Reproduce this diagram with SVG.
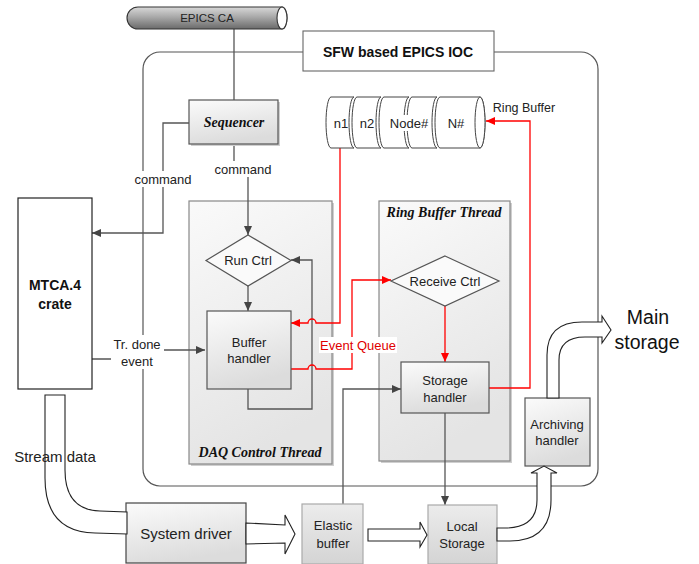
<svg xmlns="http://www.w3.org/2000/svg" width="699" height="564" viewBox="0 0 699 564">
<defs>
<linearGradient id="gPipe" x1="0" y1="0" x2="0" y2="1">
<stop offset="0" stop-color="#d8d8d8"/><stop offset="0.45" stop-color="#a9a9a9"/><stop offset="1" stop-color="#6a6a6a"/>
</linearGradient>
<linearGradient id="gNode" x1="0" y1="0" x2="0.3" y2="1">
<stop offset="0" stop-color="#fbfbfb"/><stop offset="1" stop-color="#dcdcdc"/>
</linearGradient>
<linearGradient id="gThread" x1="0" y1="0" x2="0.3" y2="1">
<stop offset="0" stop-color="#fafafa"/><stop offset="1" stop-color="#e4e4e4"/>
</linearGradient>
<linearGradient id="gGray" x1="0" y1="0" x2="0" y2="1">
<stop offset="0" stop-color="#ececec"/><stop offset="1" stop-color="#d4d4d4"/>
</linearGradient>
<marker id="ah" viewBox="0 0 9 8" refX="9" refY="4" markerWidth="9" markerHeight="8" markerUnits="userSpaceOnUse" orient="auto">
<path d="M0,0 L9,4 L0,8 Z" fill="#444"/>
</marker>
<marker id="ahr" viewBox="0 0 9 8" refX="9" refY="4" markerWidth="9" markerHeight="8" markerUnits="userSpaceOnUse" orient="auto">
<path d="M0,0 L9,4 L0,8 Z" fill="#ff0000"/>
</marker>
</defs>
<style>
text{font-family:"Liberation Sans",Arial,sans-serif;font-size:13px;fill:#222;text-anchor:middle}
.ser{font-family:"Liberation Serif","Times New Roman",serif;font-weight:bold;font-style:italic;font-size:14px;fill:#111}
.b{font-weight:bold;fill:#111}
.node{fill:url(#gNode);stroke:#555;stroke-width:1.2}
.thread{fill:url(#gThread);stroke:#888;stroke-width:1.2}
.shadow{fill:#cfcfcf}
.gray{fill:url(#gGray);stroke:#aaa;stroke-width:1.2}
.c{fill:none;stroke:#555;stroke-width:1.3}
.r{fill:none;stroke:#ff0000;stroke-width:1.3}
.bg{fill:#fff}
.blk{fill:#fff;stroke:#222;stroke-width:1.1}
.seg{fill:#fff;stroke:#444;stroke-width:1}
</style>

<g id="ioc">
<rect x="143" y="52" width="455" height="434" rx="17" fill="none" stroke="#555" stroke-width="1.2"/>
<rect x="303" y="31" width="191" height="40" fill="#fff" stroke="#666" stroke-width="1.1"/>
<text class="b" x="398" y="57" style="font-size:14px">SFW based EPICS IOC</text>
</g>

<g id="daq-thread">
<rect class="shadow" x="191" y="203" width="143" height="263"/>
<rect class="thread" x="189" y="201" width="143" height="263"/>
<text class="ser" x="260" y="457">DAQ Control Thread</text>
</g>

<g id="rb-thread">
<rect class="shadow" x="381" y="203" width="131" height="260"/>
<rect class="thread" x="379" y="201" width="131" height="260"/>
<text class="ser" x="444" y="217">Ring Buffer Thread</text>
</g>

<g id="connectors">
<path class="c" d="M234,29 L234,100"/>
<path class="c" d="M189,123 L163,123 L163,233 L92,233" marker-end="url(#ah)"/>
<path class="c" d="M234,144 L234,169 L248,169 L248,235" marker-end="url(#ah)"/>
<path class="c" d="M92,359 L137,359 L137,350 L205,350" marker-end="url(#ah)"/>
<path class="c" d="M248,286 L248,311" marker-end="url(#ah)"/>
<path class="c" d="M248,389 L248,409 L312,409 L312,260 L291,260" marker-end="url(#ah)"/>
<path class="c" d="M343,504 L343,389 L401,389" marker-end="url(#ah)"/>
<path class="c" d="M445,413 L445,505" marker-end="url(#ah)"/>
<path class="r" d="M340,148 L340,323 L316,323 A4,4 0 0 0 308,323 L291,323" marker-end="url(#ahr)"/>
<path class="r" d="M291,369 L308,369 A4,4 0 0 1 316,369 L352,369 L352,280 L391,280" marker-end="url(#ahr)"/>
<path class="r" d="M445,306 L445,362" marker-end="url(#ahr)"/>
<path class="r" d="M489,388 L530,388 L530,121 L486,121" marker-end="url(#ahr)"/>
<rect class="bg" x="134" y="171" width="59" height="16"/>
<text x="163" y="183.5">command</text>
<rect class="bg" x="214" y="161" width="59" height="16"/>
<text x="243" y="173.5">command</text>
<rect class="bg" x="111" y="335" width="53" height="34"/>
<text x="137" y="348.5">Tr. done</text>
<text x="137" y="365.5">event</text>
<rect class="bg" x="319" y="337" width="78" height="16"/>
<text x="358" y="349.5" style="fill:#e00000">Event Queue</text>
</g>

<g id="epics-ca">
<path d="M138,7 L282,7 A5,11 0 0 1 282,29 L138,29 A11,11 0 0 1 138,7 Z" fill="url(#gPipe)" stroke="#333" stroke-width="1.1"/>
<ellipse cx="282" cy="18" rx="5" ry="11" fill="#fff" stroke="#333" stroke-width="1.1"/>
<text x="207" y="22" style="font-size:11.5px">EPICS CA</text>
</g>

<g id="sequencer">
<rect class="shadow" x="191" y="102" width="89" height="44"/>
<rect class="node" x="189" y="100" width="89" height="44"/>
<text class="ser" x="234" y="127">Sequencer</text>
</g>

<g id="mtca">
<rect x="18" y="198" width="74" height="191" fill="#fff" stroke="#222" stroke-width="1.2"/>
<text class="b" x="55" y="290" style="font-size:14px">MTCA.4</text>
<text class="b" x="55" y="309" style="font-size:14px">crate</text>
</g>

<g id="ring-buffer">
<path class="seg" d="M331,97 L354,97 A5,25.5 0 0 0 354,148 L331,148 A5,25.5 0 0 1 331,97 Z"/>
<path class="seg" d="M357,97 L381,97 A5,25.5 0 0 0 381,148 L357,148 A5,25.5 0 0 1 357,97 Z"/>
<path class="seg" d="M384,97 L409,97 A5,25.5 0 0 0 409,148 L384,148 A5,25.5 0 0 1 384,97 Z"/>
<path class="seg" d="M412,97 L437,97 A5,25.5 0 0 0 437,148 L412,148 A5,25.5 0 0 1 412,97 Z"/>
<path class="seg" d="M440,97 L480,97 A5,25.5 0 0 1 480,148 L440,148 A5,25.5 0 0 1 440,97 Z"/>
<ellipse cx="480" cy="122.5" rx="5" ry="25.5" fill="#fff" stroke="#444" stroke-width="1"/>
<text x="341" y="127.5">n1</text>
<text x="367" y="127.5">n2</text>
<rect class="bg" x="390" y="115" width="38" height="16"/>
<text x="409" y="127.5">Node#</text>
<text x="456" y="127.5">N#</text>
<text x="524" y="112" style="font-size:12.5px">Ring Buffer</text>
</g>

<g id="run-ctrl">
<path d="M248,235 L291,260.5 L248,286 L206,260.5 Z" fill="#fafafa" stroke="#555" stroke-width="1.2"/>
<text x="248" y="265">Run Ctrl</text>
</g>

<g id="buffer-handler">
<rect class="node" x="207" y="311" width="84" height="78"/>
<text x="249" y="346.5">Buffer</text>
<text x="249" y="363">handler</text>
</g>

<g id="receive-ctrl">
<path d="M445,256 L499,281 L445,306 L391,281 Z" fill="#fafafa" stroke="#555" stroke-width="1.2"/>
<text x="445" y="285.5">Receive Ctrl</text>
</g>

<g id="storage-handler">
<rect class="node" x="401" y="362" width="88" height="51"/>
<text x="445" y="384.5">Storage</text>
<text x="445" y="401.5">handler</text>
</g>

<g id="archiving-handler">
<rect class="node" x="525" y="398" width="65" height="68"/>
<text x="557" y="428.5">Archiving</text>
<text x="557" y="445">handler</text>
</g>

<g id="system-driver">
<rect class="node" x="126" y="503" width="120" height="60" style="stroke:#444"/>
<text x="186" y="539" style="font-size:15px">System driver</text>
</g>

<g id="elastic-buffer">
<rect class="gray" x="302" y="504" width="61" height="60"/>
<text x="333" y="529.5">Elastic</text>
<text x="333" y="547.5">buffer</text>
</g>

<g id="local-storage">
<rect class="gray" x="428" y="505" width="69" height="59"/>
<text x="462" y="530.5">Local</text>
<text x="462" y="547.5">Storage</text>
</g>

<g id="main-storage">
<text x="648" y="324" style="font-size:19.5px;fill:#111">Main</text>
<text x="647" y="349" style="font-size:19.5px;fill:#111">storage</text>
</g>

<g id="flow-arrows">
<path class="blk" d="M45,395 L65,395 L65,470 Q65,510 100,511 L127,512 L127,534 L95,533 Q45,532 45,478 Z"/>
<text x="55" y="462" style="font-size:15px">Stream data</text>
<path class="blk" d="M246,523 L285,525 L285,515 L295,534 L285,554 L285,543 L246,544 Z"/>
<path class="blk" d="M368,529 L420,529 L420,522 L427,535 L420,547 L420,541 L368,541 Z"/>
<path class="blk" d="M497,528 L505,528 Q537,528 537,500 L537,473 L531,473 L544,466 L557,473 L551,473 L551,500 Q551,541 510,541 L497,541 Z"/>
<path class="blk" d="M547,398 L547,355 Q547,322 582,322 L602,322 L602,316 L611,330 L602,343 L602,337 L585,337 Q559,337 559,360 L559,398 Z"/>
</g>
</svg>
